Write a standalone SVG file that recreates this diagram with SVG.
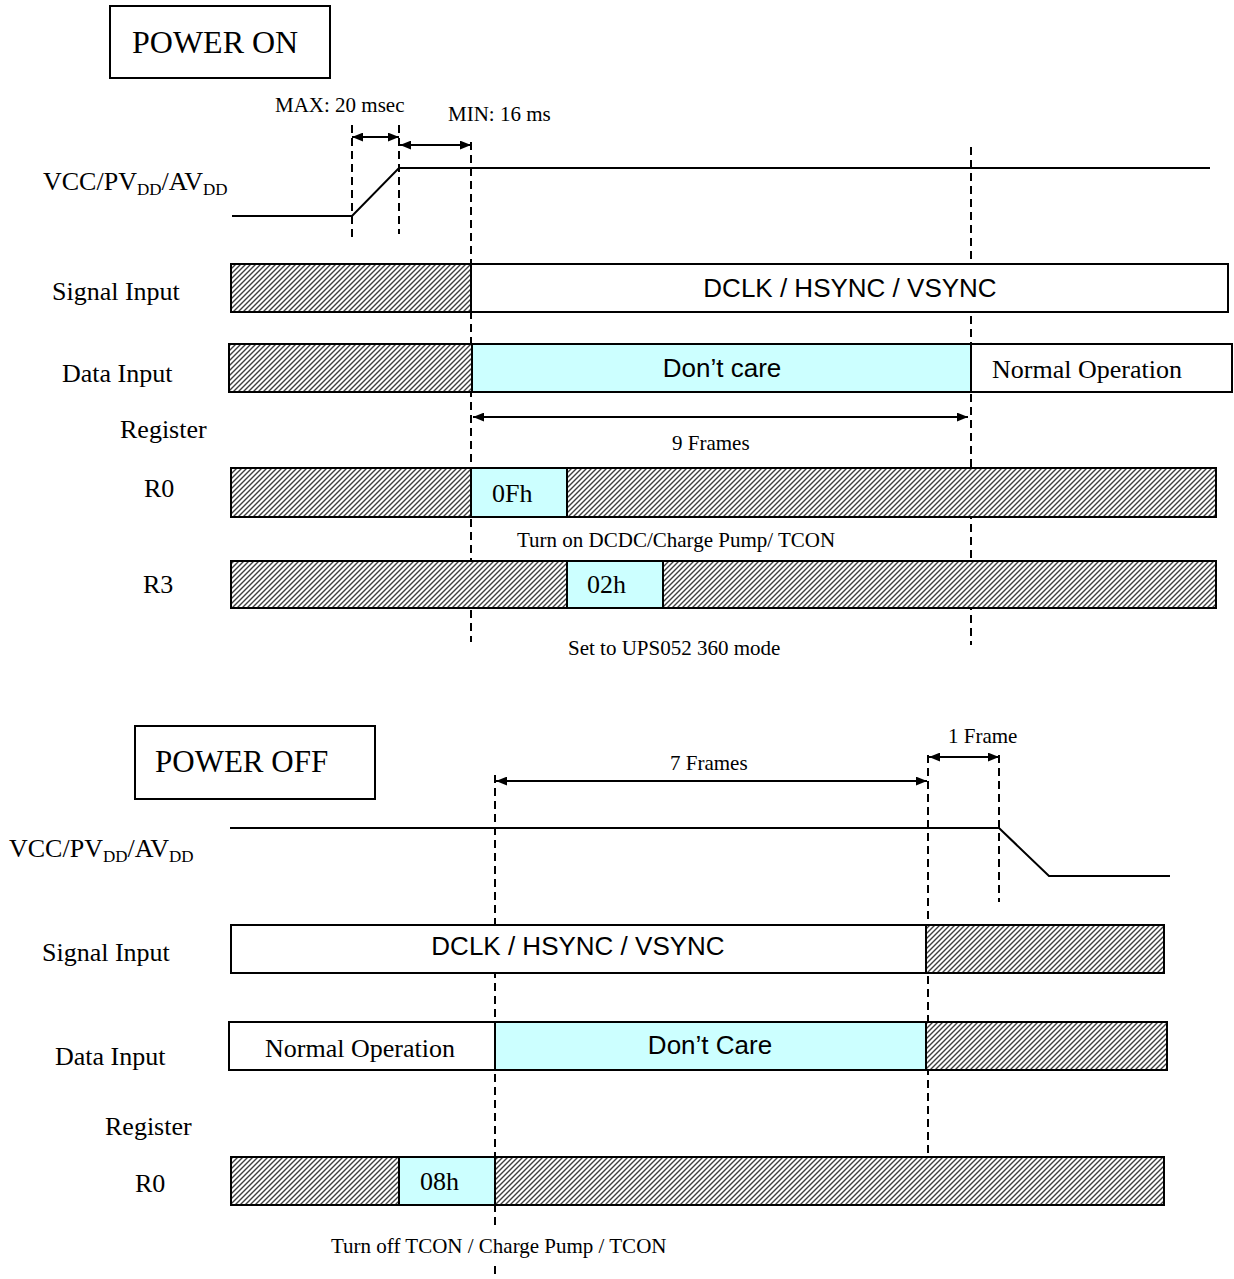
<svg xmlns="http://www.w3.org/2000/svg" width="1234" height="1279" viewBox="0 0 1234 1279">
<style>
.serif{font-family:"Liberation Serif","Times New Roman",serif;fill:#000}
.sans{font-family:"Liberation Sans",Arial,sans-serif;fill:#000}
.lbl{font-size:26px}
.sm{font-size:21px}
.sub{font-size:17px}
.box{stroke:#000;stroke-width:2}
.white{fill:#fff}
.cyan{fill:#ccffff}
.hatch{fill:url(#hatch)}
.sig{fill:none;stroke:#000;stroke-width:2}
.dash{fill:none;stroke:#000;stroke-width:2;stroke-dasharray:8 5}
.arr{fill:none;stroke:#000;stroke-width:2;marker-start:url(#ah);marker-end:url(#ah)}
</style>
<defs>
<pattern id="hatch" patternUnits="userSpaceOnUse" width="5" height="5">
<rect width="5" height="5" fill="#fff"/>
<path d="M-1,1 L1,-1 M0,5 L5,0 M4,6 L6,4" stroke="#404040" stroke-width="1.4"/>
</pattern>
<marker id="ah" viewBox="0 0 10 8" refX="10" refY="4" markerWidth="11" markerHeight="9" markerUnits="userSpaceOnUse" orient="auto-start-reverse">
<path d="M0,0 L10,4 L0,8 z" fill="#000"/>
</marker>
</defs>
<rect width="1234" height="1279" fill="#fff"/>

<!-- connectors: dashed markers, timing arrows -->
<g id="connectors">
<line class="dash" x1="352" y1="125" x2="352" y2="242"/>
<line class="dash" x1="399" y1="125" x2="399" y2="234"/>
<line class="dash" x1="471" y1="142" x2="471" y2="642"/>
<line class="dash" x1="971" y1="147" x2="971" y2="645"/>
<line class="arr" x1="352" y1="137" x2="399" y2="137"/>
<line class="arr" x1="400" y1="145" x2="471" y2="145"/>
<line class="arr" x1="473" y1="417" x2="968" y2="417"/>
<line class="dash" x1="495" y1="775" x2="495" y2="1228"/>
<line class="dash" x1="495" y1="1266" x2="495" y2="1279"/>
<line class="dash" x1="928" y1="755" x2="928" y2="1186"/>
<line class="dash" x1="999" y1="755" x2="999" y2="902"/>
<line class="arr" x1="496" y1="781" x2="927" y2="781"/>
<line class="arr" x1="929" y1="757" x2="999" y2="757"/>
</g>

<!-- POWER ON section -->
<g id="power-on-title">
<rect class="box white" x="110" y="6" width="220" height="72"/>
<text class="serif" x="132" y="53" font-size="32">POWER ON</text>
</g>
<g id="timing-labels-on">
<text class="serif sm" x="275" y="112">MAX: 20 msec</text>
<text class="serif sm" x="448" y="121">MIN: 16 ms</text>
<text class="serif sm" x="672" y="450">9 Frames</text>
</g>
<g id="vcc-on">
<text class="serif lbl" x="43" y="190">VCC/PV<tspan class="sub" dy="5">DD</tspan><tspan dy="-5">/AV</tspan><tspan class="sub" dy="5">DD</tspan></text>
<polyline class="sig" points="232,216 352,216 399,168 1210,168"/>
</g>
<g id="signal-on">
<text class="serif lbl" x="52" y="300">Signal Input</text>
<rect class="box hatch" x="231" y="264" width="240" height="48"/>
<rect class="box white" x="471" y="264" width="757" height="48"/>
<text class="sans lbl" x="850" y="297" text-anchor="middle">DCLK / HSYNC / VSYNC</text>
</g>
<g id="data-on">
<text class="serif lbl" x="62" y="382">Data Input</text>
<rect class="box hatch" x="229" y="344" width="243" height="48"/>
<rect class="box cyan" x="472" y="344" width="499" height="48"/>
<rect class="box white" x="971" y="344" width="261" height="48"/>
<text class="sans lbl" x="722" y="377" text-anchor="middle">Don’t care</text>
<text class="serif lbl" x="992" y="378">Normal Operation</text>
</g>
<g id="register-on">
<text class="serif lbl" x="120" y="438">Register</text>
</g>
<g id="r0-on">
<text class="serif lbl" x="144" y="497">R0</text>
<rect class="box hatch" x="231" y="468" width="985" height="49"/>
<rect class="box cyan" x="471" y="468" width="96" height="49"/>
<text class="serif lbl" x="492" y="502">0Fh</text>
<text class="serif sm" x="517" y="547">Turn on DCDC/Charge Pump/ TCON</text>
</g>
<g id="r3-on">
<text class="serif lbl" x="143" y="593">R3</text>
<rect class="box hatch" x="231" y="561" width="985" height="47"/>
<rect class="box cyan" x="567" y="561" width="96" height="47"/>
<text class="serif lbl" x="587" y="593">02h</text>
<text class="serif sm" x="568" y="655">Set to UPS052 360 mode</text>
</g>

<!-- POWER OFF section -->
<g id="power-off-title">
<rect class="box white" x="135" y="726" width="240" height="73"/>
<text class="serif" x="155" y="772" font-size="31">POWER OFF</text>
</g>
<g id="timing-labels-off">
<text class="serif sm" x="670" y="770">7 Frames</text>
<text class="serif sm" x="948" y="743">1 Frame</text>
</g>
<g id="vcc-off">
<text class="serif lbl" x="9" y="857">VCC/PV<tspan class="sub" dy="5">DD</tspan><tspan dy="-5">/AV</tspan><tspan class="sub" dy="5">DD</tspan></text>
<polyline class="sig" points="230,828 999,828 1049,876 1170,876"/>
</g>
<g id="signal-off">
<text class="serif lbl" x="42" y="961">Signal Input</text>
<rect class="box white" x="231" y="925" width="695" height="48"/>
<rect class="box hatch" x="926" y="925" width="238" height="48"/>
<text class="sans lbl" x="578" y="955" text-anchor="middle">DCLK / HSYNC / VSYNC</text>
</g>
<g id="data-off">
<text class="serif lbl" x="55" y="1065">Data Input</text>
<rect class="box white" x="229" y="1022" width="266" height="48"/>
<rect class="box cyan" x="495" y="1022" width="431" height="48"/>
<rect class="box hatch" x="926" y="1022" width="241" height="48"/>
<text class="serif lbl" x="265" y="1057">Normal Operation</text>
<text class="sans lbl" x="710" y="1054" text-anchor="middle">Don’t Care</text>
</g>
<g id="register-off">
<text class="serif lbl" x="105" y="1135">Register</text>
</g>
<g id="r0-off">
<text class="serif lbl" x="135" y="1192">R0</text>
<rect class="box hatch" x="231" y="1157" width="933" height="48"/>
<rect class="box cyan" x="399" y="1157" width="96" height="48"/>
<text class="serif lbl" x="420" y="1190">08h</text>
<text class="serif sm" x="331" y="1253">Turn off TCON / Charge Pump / TCON</text>
</g>
</svg>
